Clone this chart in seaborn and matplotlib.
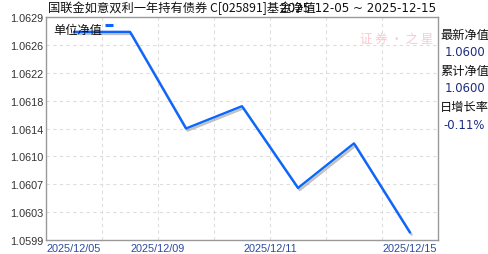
import numpy as np
import pandas as pd
import matplotlib
matplotlib.use("Agg")
import matplotlib.pyplot as plt
import matplotlib.patheffects as pe
import seaborn as sns

# ---- data ----
dates = ["2025/12/05", "2025/12/08", "2025/12/09", "2025/12/10",
         "2025/12/11", "2025/12/12", "2025/12/15"]
nav = [1.0627, 1.0627, 1.0614, 1.0617, 1.0606, 1.0612, 1.0600]
y_ticks = [1.0599, 1.0603, 1.0607, 1.0610, 1.0614, 1.0618, 1.0622, 1.0626, 1.0629]
y_tick_labels = ["1.0599", "1.0603", "1.0607", "1.0610", "1.0614",
                 "1.0618", "1.0622", "1.0626", "1.0629"]
x_tick_labels = ["2025/12/05", "2025/12/09", "2025/12/11", "2025/12/15"]
x_tick_pos = [0, 1.5, 3.5, 6]
title_main = "国联金如意双利一年持有债券 C[025891]基金净值"
title_range = "2025-12-05 ~ 2025-12-15"
legend_label = "单位净值"
side_labels = ["最新净值", "累计净值", "日增长率"]
side_values = ["1.0600", "1.0600", "-0.11%"]

sns.set_theme(style="white")
plt.rcParams['font.family'] = ['Noto Sans CJK SC', 'DejaVu Sans']

df = pd.DataFrame({"idx": np.arange(len(dates)), "nav": nav, "date": dates})

fig = plt.figure(figsize=(4.88, 2.55), dpi=100)
ax = fig.add_axes([46/488, 14/255, 392/488, 223/255])

line_color = "#0a66ff"
sns.lineplot(data=df, x="idx", y="nav", ax=ax, color=line_color, linewidth=1.7,
             path_effects=[pe.SimpleLineShadow(offset=(1.2, -1.5), shadow_color="#999999", alpha=0.6),
                           pe.Normal()])

n = len(dates)
ax.set_xlim(-0.5, n - 0.5)
ax.set_ylim(y_ticks[0], y_ticks[-1])
ax.set_yticks(np.linspace(y_ticks[0], y_ticks[-1], len(y_ticks)))
ax.set_yticklabels(y_tick_labels, fontfamily="Liberation Sans", fontsize=7.8, color="#333333")
ax.set_xticks(x_tick_pos)
ax.set_xticklabels(x_tick_labels, fontfamily="Liberation Sans", fontsize=7.8, color="#2b4aa0")
ax.tick_params(axis="both", length=0, pad=2)
ax.set_xlabel("")
ax.set_ylabel("")

# grid
for yy in np.linspace(y_ticks[0], y_ticks[-1], len(y_ticks))[1:-1]:
    ax.axhline(yy, color="#dddddd", linestyle=(0, (3, 3)), linewidth=0.8, zorder=0)
for xx in np.arange(0.5, n - 0.5, 1.0):
    ax.axvline(xx, color="#dddddd", linestyle=(0, (3, 3)), linewidth=0.8, zorder=0)

for s in ax.spines.values():
    s.set_color("#999999")
    s.set_linewidth(1.0)

# legend
ax.text(0.018, 0.945, legend_label, transform=ax.transAxes, fontsize=8.8,
        color="#111111", va="center", ha="left")
ax.plot([0.150, 0.170], [0.962, 0.962], transform=ax.transAxes, color=line_color,
        linewidth=2.2, solid_capstyle="butt")

# watermark
ax.text(0.895, 0.905, "证 券 · 之 星", transform=ax.transAxes, fontsize=9,
        color="#f9c4cb", va="center", ha="center", alpha=0.9, style="italic")

# title
fig.text(48/488, 1 - 8/255, title_main, fontsize=8.8, color="#111111", va="center", ha="left")
fig.text(436/488, 1 - 8/255, title_range, fontsize=8.6, color="#111111", va="center",
         ha="right", fontfamily="DejaVu Sans")

# side panel
label_y = [35, 71.5, 107]
value_y = [53, 89, 125.5]
for lab, yy in zip(side_labels, label_y):
    fig.text(440/488, 1 - yy/255, lab, fontsize=8.8, color="#111111", va="center", ha="left")
for val, yy in zip(side_values, value_y):
    fig.text(485/488, 1 - yy/255, val, fontsize=8.4, color="#1a2a80", va="center", ha="right",
             fontfamily="DejaVu Sans")

fig.savefig("out.png", dpi=100)
